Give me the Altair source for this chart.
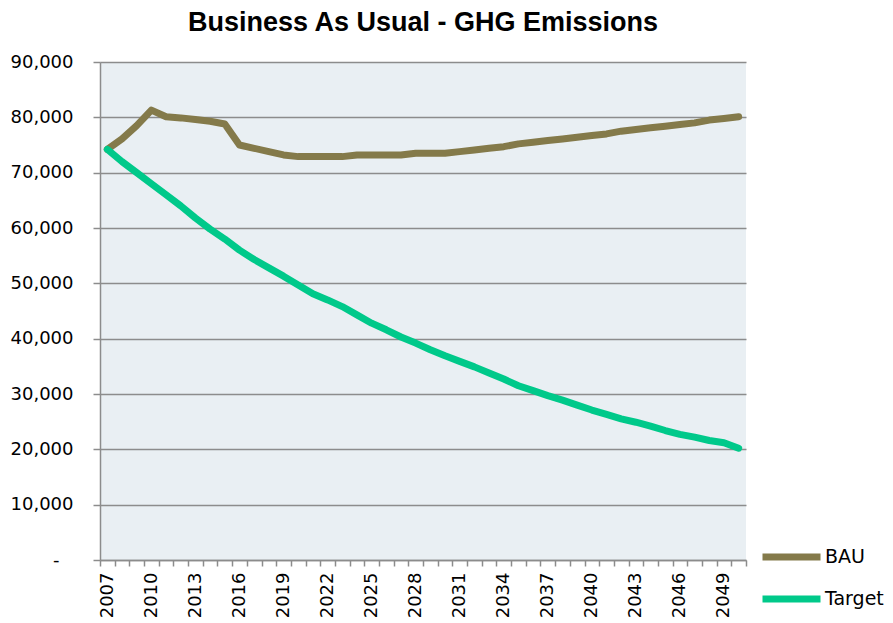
import altair as alt
import pandas as pd

years = list(range(2007, 2051))
bau = [74200, 76100, 78500, 81300, 80100, 79900, 79600, 79300, 78800, 75000,
       74400, 73800, 73200, 72900, 72900, 72900, 72900, 73200, 73200, 73200,
       73200, 73500, 73500, 73500, 73800, 74100, 74400, 74700, 75200, 75500,
       75800, 76100, 76400, 76700, 77000, 77500, 77800, 78100, 78400, 78700,
       79000, 79500, 79800, 80100]
target = [74200, 72000, 70000, 68000, 66000, 64000, 61800, 59800, 58000, 56000,
          54300, 52800, 51300, 49700, 48100, 47000, 45800, 44300, 42800, 41600,
          40300, 39200, 38000, 36900, 35900, 34900, 33800, 32700, 31500, 30600,
          29700, 28900, 28000, 27100, 26300, 25500, 24900, 24200, 23400, 22700,
          22200, 21600, 21200, 20200]
series_names = ["BAU", "Target"]
series_colors = ["#847A4A", "#00C98A"]
y_ticks = [0, 10000, 20000, 30000, 40000, 50000, 60000, 70000, 80000, 90000]

df = pd.DataFrame(
    {"year": years * 2,
     "value": bau + target,
     "series": ["BAU"] * len(years) + ["Target"] * len(years)}
)

x_vals = []
for y in years:
    x_vals.append(y - 0.5)
    x_vals.append(y)
x_vals.append(years[-1] + 0.5)

FONT = "DejaVu Sans"

chart = alt.Chart(df).mark_line(
    strokeWidth=7, strokeCap="round", strokeJoin="round"
).encode(
    x=alt.X(
        "year:Q",
        scale=alt.Scale(domain=[2006.5, 2050.5], nice=False, zero=False),
        axis=alt.Axis(
            title=None,
            values=x_vals,
            grid=False,
            labelAngle=-90,
            labelOverlap=False,
            labelExpr="(datum.value % 1 == 0 && (datum.value - 2007) % 3 == 0) ? ('' + datum.value) : ''",
            tickOpacity={"condition": {"test": "datum.value % 1 == 0", "value": 0}, "value": 1},
            tickSize=6,
            tickColor="#8c8c8c",
            tickWidth=1.5,
            domainColor="#8c8c8c",
            domainWidth=1.5,
            labelPadding=6,
            labelFont=FONT,
            labelFontSize=18,
            labelColor="#000000",
        ),
    ),
    y=alt.Y(
        "value:Q",
        scale=alt.Scale(domain=[0, 90000], nice=False),
        axis=alt.Axis(
            title=None,
            values=y_ticks,
            grid=True,
            gridColor="#8c8c8c",
            gridWidth=1.5,
            tickSize=7,
            tickColor="#8c8c8c",
            tickWidth=1.5,
            domainColor="#8c8c8c",
            domainWidth=1.5,
            labelPadding={"condition": {"test": "datum.value == 0", "value": 34}, "value": 20},
            labelFont=FONT,
            labelFontSize=18,
            labelColor="#000000",
            labelExpr="datum.value == 0 ? '-' : format(datum.value, ',')",
        ),
    ),
    color=alt.Color(
        "series:N",
        scale=alt.Scale(domain=series_names, range=series_colors),
        legend=alt.Legend(
            title=None,
            orient="none",
            legendX=659,
            legendY=485,
            symbolType="stroke",
            symbolStrokeWidth=7,
            symbolSize=3364,
            clipHeight=20,
            rowPadding=22,
            labelFont=FONT,
            labelFontSize=19,
            labelColor="#000000",
            labelOffset=1,
            padding=0,
        ),
    ),
).properties(
    width=646,
    height=498,
    title=alt.TitleParams(
        "Business As Usual - GHG Emissions",
        font="Liberation Sans",
        fontSize=27,
        fontWeight="bold",
        color="#000000",
        anchor="middle",
        offset=16,
    ),
    padding={"left": 92, "top": 54, "right": 139, "bottom": 58},
    autosize=alt.AutoSizeParams(type="none"),
).configure_view(
    fill="#E9EFF3",
    stroke=None,
)

chart.save("out.html", embed_options={"renderer": "svg", "actions": False})
